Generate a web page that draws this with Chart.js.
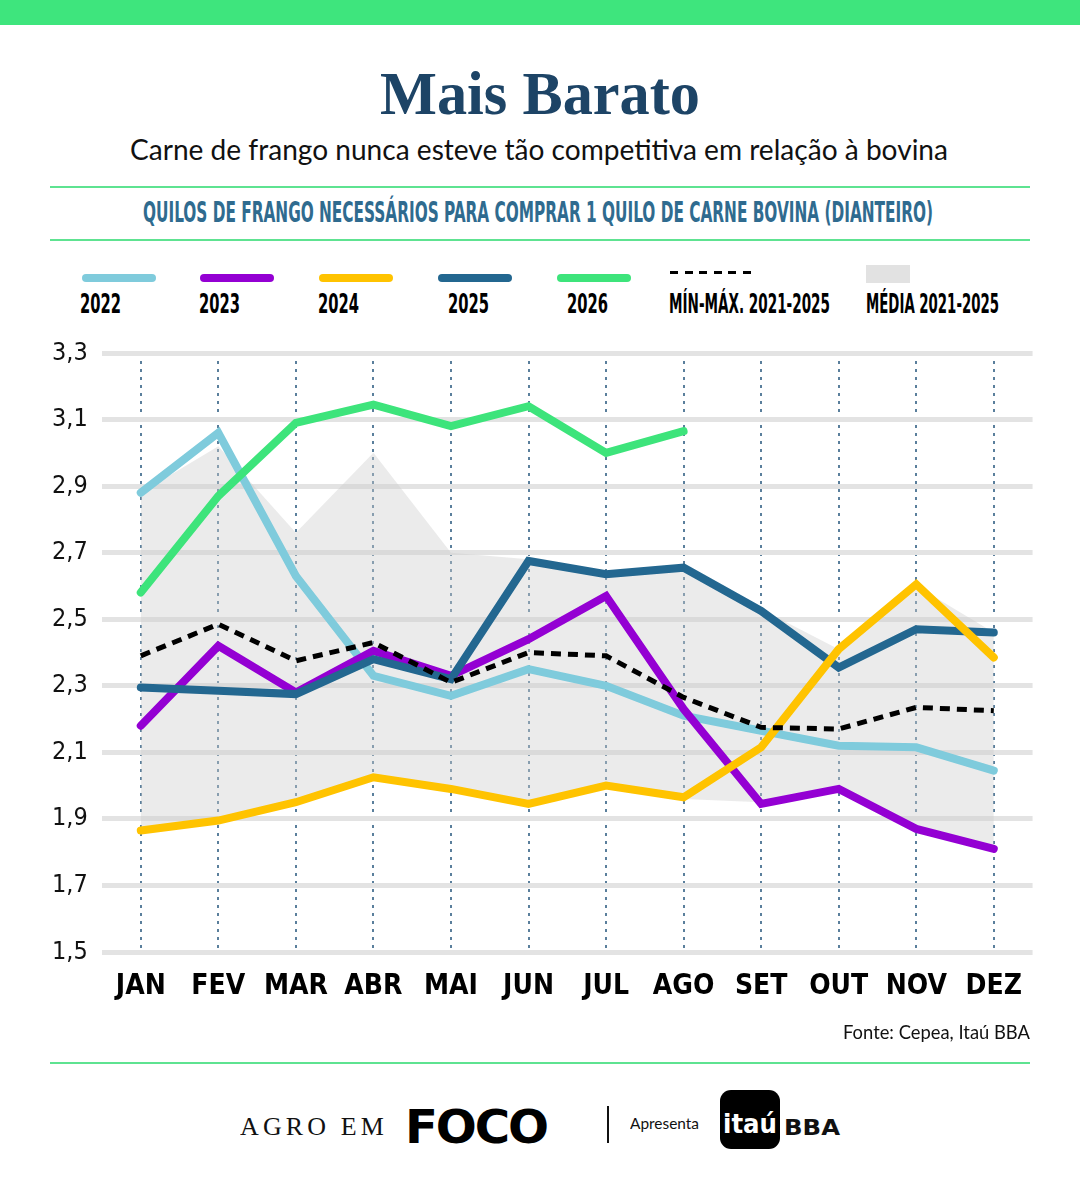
<!DOCTYPE html>
<html>
<head>
<meta charset="utf-8">
<script src="https://cdn.jsdelivr.net/npm/chart.js@4"></script>
<style>
  body { margin: 0; width: 1080px; height: 1200px; background: #fff; position: relative; overflow: hidden; }
  .abs { position: absolute; }
  .fit { position: absolute; white-space: nowrap; transform-origin: left top; line-height: 1; }
  .rule { position: absolute; left: 50px; width: 980px; height: 2px; background: #5ee391; }
  .narrow { font-family: "Liberation Sans Narrow", "DejaVu Sans Condensed", sans-serif; }
</style>
</head>
<body>
<div class="abs" style="left:0;top:0;width:1080px;height:25px;background:#3ee57d"></div>

<div class="fit" data-x="380" data-w="320" style="top:62px;font-family:'Liberation Serif',serif;font-weight:bold;font-size:62px;color:#1d4466">Mais Barato</div>
<div class="fit" data-x="130" data-w="818" style="top:134px;font-family:Lato,sans-serif;font-size:29px;color:#111">Carne de frango nunca esteve tão competitiva em relação à bovina</div>

<div class="rule" style="top:186px"></div>
<div class="fit narrow" data-x="143" data-w="790" style="top:199px;font-weight:bold;font-size:28px;color:#2f6b8f">QUILOS DE FRANGO NECESSÁRIOS PARA COMPRAR 1 QUILO DE CARNE BOVINA (DIANTEIRO)</div>
<div class="rule" style="top:239px"></div>

<div id="legend"></div>

<div class="abs" style="left:40px;top:335px;width:1000px;height:700px">
  <canvas id="myChart"></canvas>
</div>

<div class="fit" data-x="843" data-w="187" style="top:1022px;font-family:Lato,sans-serif;font-size:19px;color:#111">Fonte: Cepea, Itaú BBA</div>

<div class="rule" style="top:1062px"></div>

<div class="fit" data-x="240" data-w="148" style="top:1114px;font-family:'Liberation Serif',serif;font-size:25px;letter-spacing:4px;color:#111">AGRO EM</div>
<div class="fit" data-x="405" data-w="142" style="top:1104px;font-family:'DejaVu Sans',sans-serif;font-weight:900;font-size:46px;letter-spacing:-2px;color:#000">FOCO</div>
<div class="abs" style="left:607px;top:1106px;width:2px;height:37px;background:#111"></div>
<div class="fit" data-x="630" data-w="69" style="top:1116px;font-family:Lato,sans-serif;font-size:15px;color:#111">Apresenta</div>
<div class="abs" style="left:720px;top:1090px;width:60px;height:59px;background:#000;border-radius:11px"></div>
<div class="fit" data-x="723" data-w="54" style="top:1111px;font-family:'DejaVu Sans',sans-serif;font-weight:bold;font-size:26px;color:#fff">itaú</div>
<div class="fit" data-x="784" data-w="56" style="top:1117px;font-family:'DejaVu Sans',sans-serif;font-weight:bold;font-size:22px;color:#111">BBA</div>

<script>
var months = ["JAN", "FEV", "MAR", "ABR", "MAI", "JUN", "JUL", "AGO", "SET", "OUT", "NOV", "DEZ"];
var yTicks = [1.5, 1.7, 1.9, 2.1, 2.3, 2.5, 2.7, 2.9, 3.1, 3.3];

var s2022 = [2.88, 3.06, 2.63, 2.33, 2.27, 2.35, 2.30, 2.21, 2.165, 2.12, 2.115, 2.045];
var s2023 = [2.18, 2.42, 2.28, 2.405, 2.33, 2.44, 2.57, 2.23, 1.945, 1.99, 1.87, 1.81];
var s2024 = [1.865, 1.895, 1.95, 2.025, 1.99, 1.945, 2.0, 1.965, 2.115, 2.41, 2.605, 2.385];
var s2025 = [2.295, 2.285, 2.275, 2.38, 2.32, 2.675, 2.635, 2.655, 2.525, 2.355, 2.47, 2.46];
var s2026 = [2.58, 2.87, 3.09, 3.145, 3.08, 3.14, 3.0, 3.065, null, null, null, null];
var dashedLine = [2.39, 2.485, 2.375, 2.43, 2.31, 2.40, 2.39, 2.265, 2.175, 2.17, 2.235, 2.225];
var bandTop = [2.88, 3.02, 2.76, 3.0, 2.70, 2.68, 2.64, 2.66, 2.53, 2.41, 2.60, 2.46];
var bandBottom = [1.86, 1.89, 1.95, 2.02, 1.99, 1.94, 2.0, 1.96, 1.95, 1.99, 1.87, 1.81];

var seriesNames = ["2022", "2023", "2024", "2025", "2026"];
var seriesColors = ["#7fcbdc", "#9400d3", "#ffc300", "#236790", "#3de47b"];
var dashedName = "MÍN-MÁX. 2021-2025";
var bandName = "MÉDIA 2021-2025";

// legend (html)
var legend = document.getElementById("legend");
var swatchX = [82, 200, 319, 438, 557];
var labelX = [80, 199, 318, 448, 567];
var html = "";
seriesNames.forEach(function (name, i) {
  html += '<div class="abs" style="left:' + swatchX[i] + 'px;top:274px;width:74px;height:8px;border-radius:4px;background:' + seriesColors[i] + '"></div>';
  html += '<div class="fit narrow" data-x="' + labelX[i] + '" data-w="41" style="top:290px;font-weight:bold;font-size:27px;color:#000">' + name + '</div>';
});
for (var d = 0; d < 6; d++) {
  html += '<div class="abs" style="left:' + (670 + d * 14.5) + 'px;top:271px;width:8px;height:3px;background:#000"></div>';
}
html += '<div class="fit narrow" data-x="669" data-w="161" style="top:290px;font-weight:bold;font-size:27px;color:#000">' + dashedName + '</div>';
html += '<div class="abs" style="left:866px;top:265px;width:44px;height:18px;background:#e2e2e2"></div>';
html += '<div class="fit narrow" data-x="866" data-w="133" style="top:290px;font-weight:bold;font-size:27px;color:#000">' + bandName + '</div>';
legend.innerHTML = html;

// squeeze text boxes to their widths
document.querySelectorAll(".fit").forEach(function (el) {
  var w = el.getBoundingClientRect().width;
  el.style.left = el.dataset.x + "px";
  el.style.transform = "scaleX(" + (parseFloat(el.dataset.w) / w) + ")";
});

function lineSet(label, data, color) {
  return {
    label: label,
    data: data,
    borderColor: color,
    backgroundColor: color,
    borderWidth: 8,
    borderCapStyle: "round",
    pointRadius: 0,
    fill: false,
    tension: 0,
  };
}

var myChart = document.getElementById("myChart").getContext("2d");
var chart = new Chart(myChart, {
  type: "line",
  data: {
    labels: months,
    datasets: [
      {
        label: dashedName,
        data: dashedLine,
        borderColor: "#000",
        borderWidth: 5,
        borderDash: [10, 7],
        pointRadius: 0,
        fill: false,
      },
      lineSet("2026", s2026, seriesColors[4]),
      lineSet("2024", s2024, seriesColors[2]),
      lineSet("2025", s2025, seriesColors[3]),
      lineSet("2023", s2023, seriesColors[1]),
      lineSet("2022", s2022, seriesColors[0]),
      {
        label: bandName + " max",
        data: bandTop,
        borderWidth: 0,
        pointRadius: 0,
        backgroundColor: "rgba(205,205,205,0.4)",
        fill: "+1",
      },
      {
        label: bandName + " min",
        data: bandBottom,
        borderWidth: 0,
        pointRadius: 0,
        fill: false,
      },
    ],
  },
  options: {
    responsive: true,
    maintainAspectRatio: false,
    animation: false,
    layout: { padding: { left: 12, top: 18, right: 0, bottom: 13 } },
    plugins: { legend: { display: false }, tooltip: { enabled: false } },
    scales: {
      x: {
        offset: true,
        afterFit: function (scale) { scale.height = 70; },
        grid: { offset: false, color: "#5a7f9c", lineWidth: 2, drawTicks: false },
        border: { display: false, dash: [3, 5] },
        ticks: {
          padding: 18,
          color: "#000",
          maxRotation: 0,
          minRotation: 0,
          autoSkip: false,
          font: { family: "'Liberation Sans Narrow', 'DejaVu Sans Condensed', sans-serif", size: 28, weight: "bold" },
        },
      },
      y: {
        min: 1.5,
        max: 3.3,
        afterFit: function (scale) { scale.width = 50; },
        afterBuildTicks: function (scale) {
          scale.ticks = yTicks.map(function (v) { return { value: v }; });
        },
        grid: { color: "#e3e3e3", lineWidth: 5, drawTicks: false },
        border: { display: false },
        ticks: {
          crossAlign: "far",
          color: "#111",
          font: { family: "'Liberation Sans Narrow', 'DejaVu Sans Condensed', sans-serif", size: 25 },
          callback: function (v) { return v.toFixed(1).replace(".", ","); },
        },
      },
    },
  },
});
</script>
</body>
</html>
